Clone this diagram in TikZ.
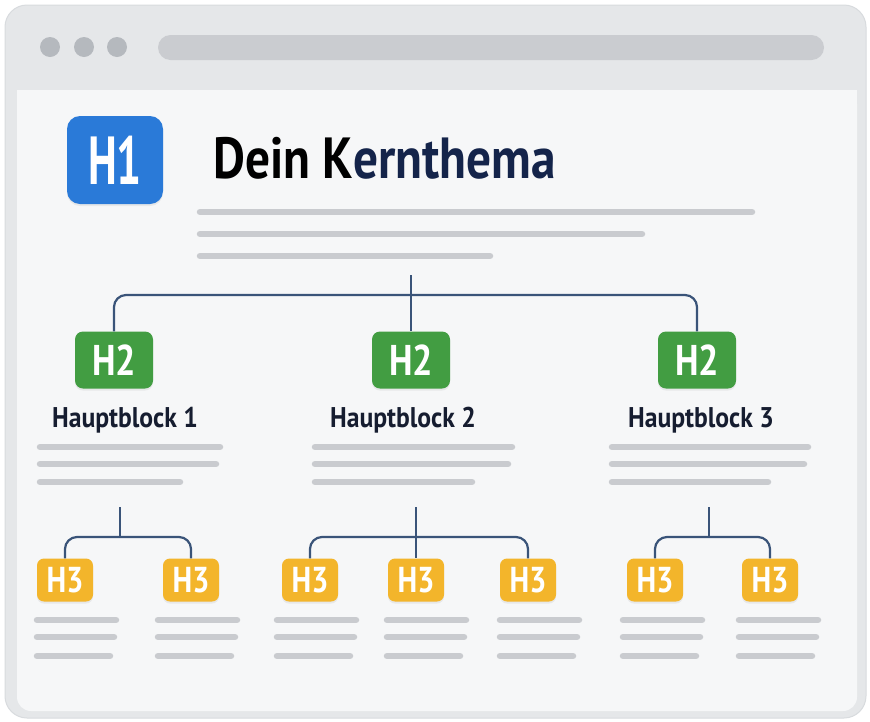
\documentclass[tikz,border=0pt]{standalone}
\usepackage{fontspec}
\usetikzlibrary{shadows}
\setmainfont{PT Sans}
\newfontfamily\titlefont[FakeStretch=0.85]{PT Sans}
\newfontfamily\bigtagfont[FakeStretch=0.65]{PT Sans}
\newfontfamily\tagfont[FakeStretch=0.84]{PT Sans}
\newfontfamily\labelfont[FakeStretch=0.9]{PT Sans}
\definecolor{frame}{HTML}{E5E7E9}
\definecolor{frameedge}{HTML}{D8DBDE}
\definecolor{dots}{HTML}{B5B9BE}
\definecolor{addrbar}{HTML}{CACCD0}
\definecolor{page}{HTML}{F6F7F8}
\definecolor{txtline}{HTML}{C9CBCF}
\definecolor{conn}{HTML}{3A5479}
\definecolor{blueH}{HTML}{2A7AD8}
\definecolor{greenH}{HTML}{429D42}
\definecolor{yellowH}{HTML}{F3B52B}
\definecolor{ink}{HTML}{161D30}
\definecolor{navy}{HTML}{14244A}

\tikzset{
  tag/.style={rounded corners=8pt, text=white, inner sep=0pt,
    drop shadow={opacity=0.12, shadow xshift=0pt, shadow yshift=-2pt}},
  hone/.style={tag, fill=blueH, rounded corners=13pt, minimum width=96pt, minimum height=88pt,
    font={\bigtagfont\bfseries\fontsize{68}{68}\selectfont}},
  htwo/.style={tag, fill=greenH, minimum width=78pt, minimum height=57pt,
    font={\tagfont\bfseries\fontsize{43}{43}\selectfont}},
  hthree/.style={tag, fill=yellowH, rounded corners=7pt, minimum width=56pt, minimum height=43pt,
    font={\tagfont\bfseries\fontsize{36}{36}\selectfont}},
  blocklabel/.style={anchor=base, text=ink, inner sep=0pt,
    font={\labelfont\bfseries\fontsize{28.5}{28.5}\selectfont}},
  conn/.style={draw=conn, line width=2.2pt, rounded corners=12pt},
  txt/.style={draw=txtline, line width=6.5pt, line cap=round}
}

\begin{document}
\begin{tikzpicture}[x=1pt, y=-1pt]
    \useasboundingbox (0,0) rectangle (870,721);
    \fill[white] (0,0) rectangle (870,721);

    %window
    \draw[fill=frame, draw=frameedge, line width=1pt, rounded corners=22pt] (5,5) rectangle (866,718);
    \foreach \x in {50,84,117}
        \fill[dots] (\x,47) circle (10);
    \fill[addrbar, rounded corners=12.5pt] (158,35) rectangle (824,60);
    \fill[page, rounded corners=14pt] (17,90) rectangle (857,711);
    \fill[page] (17,90) rectangle (857,120);

    %H1 and title
    \node[hone] (h1) at (115,160) {H1};
    \node[anchor=base west, text=navy, inner sep=0pt, font={\titlefont\bfseries\fontsize{58}{58}\selectfont}] (title) at (213,178) {{\color{black}Dein K}ernthema};
    \draw[txt] (200,212) -- (752,212);
    \draw[txt] (200,234) -- (642,234);
    \draw[txt] (200,256) -- (490,256);

    %H2 blocks
    \node[htwo] (h2a) at (114,360) {H2};
    \node[htwo] (h2b) at (411,360) {H2};
    \node[htwo] (h2c) at (697,360) {H2};
    \node[blocklabel] (lab1) at (125,427) {Hauptblock 1};
    \node[blocklabel] (lab2) at (403,427) {Hauptblock 2};
    \node[blocklabel] (lab3) at (701,427) {Hauptblock 3};
    \foreach \x/\l in {40/180, 315/197, 612/196}{
        \draw[txt] (\x,447) -- ++(\l,0);
        \draw[txt] (\x,464) -- ++(\l-4,0);
        \draw[txt] (\x,482) -- ++(\l-40,0);
    }

    %connectors H1 -> H2
    \coordinate (top) at (411,275);
    \coordinate (bus) at (411,295);
    \draw[conn] (top) -- (h2b.north);
    \draw[conn] (h2a.north) |- (bus) -| (h2c.north);

    %H3 boxes
    \node[hthree] (h3a) at (65,580) {H3};
    \node[hthree] (h3b) at (191,580) {H3};
    \node[hthree] (h3c) at (310,580) {H3};
    \node[hthree] (h3d) at (416,580) {H3};
    \node[hthree] (h3e) at (528,580) {H3};
    \node[hthree] (h3f) at (655,580) {H3};
    \node[hthree] (h3g) at (770,580) {H3};
    \foreach \x in {37,158,277,387,500,623,739}{
        \draw[txt] (\x,620) -- ++(79,0);
        \draw[txt] (\x,637) -- ++(77,0);
        \draw[txt] (\x,656) -- ++(73,0);
    }

    %connectors H2 -> H3
    \coordinate (s1) at (120,507);
    \coordinate (j1) at (120,537);
    \coordinate (s2) at (416,507);
    \coordinate (j2) at (416,537);
    \coordinate (s3) at (709,507);
    \coordinate (j3) at (709,537);
    \draw[conn] (s1) -- (j1);
    \draw[conn] (h3a.north) |- (j1) -| (h3b.north);
    \draw[conn] (s2) -- (h3d.north);
    \draw[conn] (h3c.north) |- (j2) -| (h3e.north);
    \draw[conn] (s3) -- (j3);
    \draw[conn] (h3f.north) |- (j3) -| (h3g.north);
\end{tikzpicture}
\end{document}
